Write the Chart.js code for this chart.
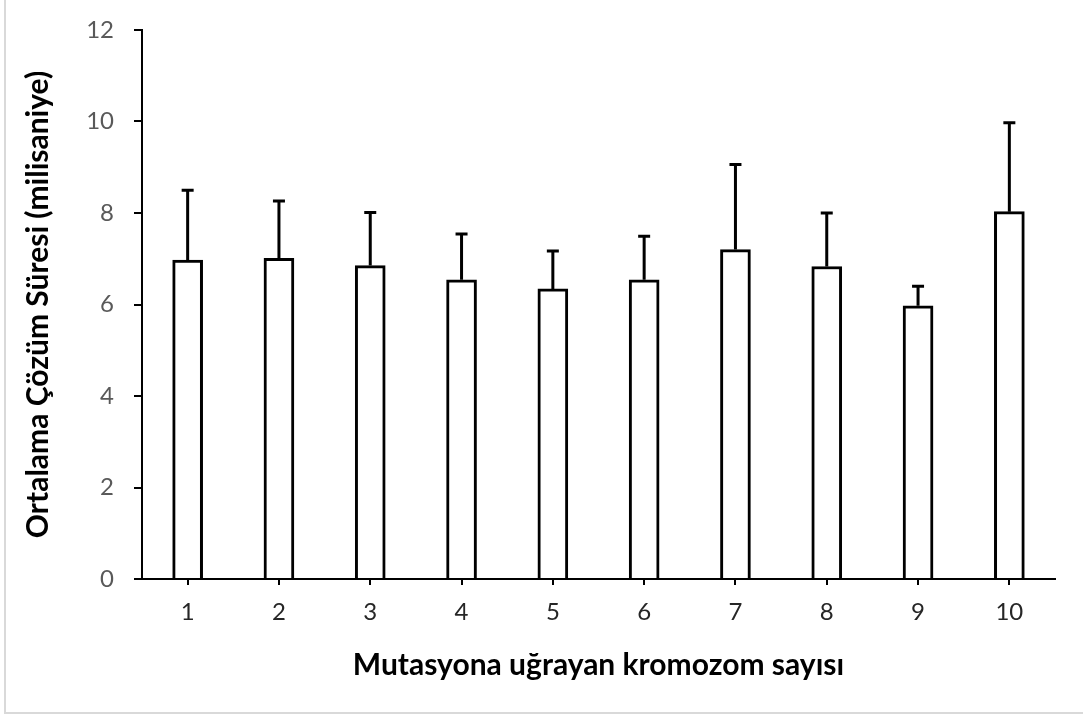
<!DOCTYPE html>
<html>
<head>
<meta charset="utf-8">
<script src="https://cdn.jsdelivr.net/npm/chart.js@4/dist/chart.umd.min.js"></script>
<style>
  html, body { margin: 0; padding: 0; background: #fff; }
  #wrap { width: 1083px; height: 717px; }
</style>
</head>
<body>
<div id="wrap"><canvas id="bar-chart" width="1083" height="717"></canvas></div>
<script>
const labels = ['1', '2', '3', '4', '5', '6', '7', '8', '9', '10']
const means = [6.97, 7.01, 6.85, 6.54, 6.34, 6.54, 7.2, 6.83, 5.97, 8.03]
const errors = [1.53, 1.25, 1.16, 1.0, 0.83, 0.95, 1.86, 1.17, 0.43, 1.94]
const yTicks = [0, 2, 4, 6, 8, 10, 12]

// upward-only error bars, drawn from the bar scale
const errorBars = {
  id: 'errorBars',
  afterDatasetsDraw(chart) {
    const ctx = chart.ctx
    const y = chart.scales.y
    const meta = chart.getDatasetMeta(0)
    ctx.save()
    ctx.strokeStyle = '#000'
    ctx.lineWidth = 3
    meta.data.forEach((bar, i) => {
      const top = y.getPixelForValue(means[i] + errors[i])
      const base = y.getPixelForValue(means[i])
      ctx.beginPath()
      ctx.moveTo(bar.x, base)
      ctx.lineTo(bar.x, top)
      ctx.moveTo(bar.x - 6, top)
      ctx.lineTo(bar.x + 6, top)
      ctx.stroke()
    })
    ctx.restore()
  },
}

// light frame round the chart
const frame = {
  id: 'frame',
  beforeDraw(chart) {
    const ctx = chart.ctx
    ctx.save()
    ctx.fillStyle = '#fff'
    ctx.fillRect(0, 0, chart.width, chart.height)
    ctx.strokeStyle = '#d9d9d9'
    ctx.lineWidth = 2
    ctx.strokeRect(5, -2, chart.width, 715)
    ctx.restore()
  },
}

const data = {
  labels: labels,
  datasets: [
    {
      data: means,
      backgroundColor: '#fff',
      borderColor: '#000',
      borderWidth: 3,
      barThickness: 30,
    },
  ],
}

const config = {
  type: 'bar',
  data: data,
  plugins: [frame, errorBars],
  options: {
    responsive: false,
    animation: false,
    layout: { padding: { left: 0, top: 30, right: 28, bottom: 0 } },
    plugins: { legend: { display: false }, tooltip: { enabled: false } },
    scales: {
      x: {
        afterFit: (s) => {
          s.height = 138
          s.paddingLeft = 0
          s.paddingRight = 0
        },
        grid: { offset: false, drawOnChartArea: false, color: '#000', lineWidth: 2, tickLength: 6 },
        border: { color: '#000', width: 2 },
        ticks: { color: '#262626', font: { family: 'Lato', size: 24 }, padding: 13 },
        title: {
          display: true,
          text: 'Mutasyona uğrayan kromozom sayısı',
          color: '#000',
          font: { family: 'Lato', size: 30, weight: 'bold' },
          padding: { top: 0, bottom: 34 },
        },
      },
      y: {
        min: 0,
        max: 12,
        afterFit: (s) => {
          s.width = 142
          s.paddingTop = 0
          s.paddingBottom = 0
        },
        afterBuildTicks: (s) => { s.ticks = yTicks.map((v) => ({ value: v })) },
        grid: { drawOnChartArea: false, color: '#000', lineWidth: 2, tickLength: 8 },
        border: { color: '#000', width: 2 },
        ticks: { color: '#595959', font: { family: 'Lato', size: 24 }, padding: 20 },
        title: {
          display: true,
          text: 'Ortalama Çözüm Süresi (milisaniye)',
          color: '#000',
          font: { family: 'Lato', size: 30, weight: 'bold' },
          padding: { top: 20, bottom: 0 },
        },
      },
    },
  },
}

const bar_chart = document.getElementById('bar-chart')
const chart = new Chart(bar_chart, config)
</script>
</body>
</html>
